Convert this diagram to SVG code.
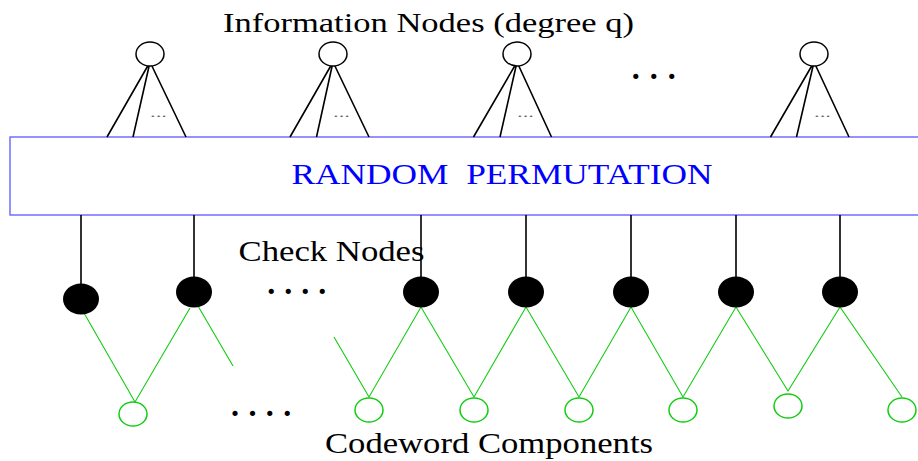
<svg xmlns="http://www.w3.org/2000/svg" width="918" height="461" viewBox="0 0 918 461">
  <style>
    .lbl { font-family: "Liberation Serif", "Times New Roman", serif; fill: #000; }
    .perm { font-family: "Liberation Serif", "Times New Roman", serif; fill: #0000ff; white-space: pre; }
    .dots { font-family: "Liberation Serif", "Times New Roman", serif; fill: #000; font-size: 32px; font-weight: bold; }
    .mini { font-family: "Liberation Serif", "Times New Roman", serif; fill: #666; font-size: 13px; }
    .info { fill: #fff; stroke: #000; stroke-width: 1.5; }
    .check { fill: #000; stroke: none; }
    .code { fill: none; stroke: #11cc11; stroke-width: 1.5; }
    .blk { stroke: #000; stroke-width: 1.6; fill: none; }
    .grn { stroke: #11cc11; stroke-width: 1.1; fill: none; }
  </style>

  <!-- title -->
  <text class="lbl" x="223" y="31.5" font-size="28" textLength="411" lengthAdjust="spacingAndGlyphs">Information Nodes (degree q)</text>

  <!-- permutation box -->
  <g id="permutation">
    <rect x="10" y="137" width="930" height="78" fill="none" stroke="#5a5aff" stroke-width="1.3"/>
    <text class="perm" x="291.5" y="183.5" font-size="30" textLength="421" lengthAdjust="spacingAndGlyphs">RANDOM  PERMUTATION</text>
  </g>

  <!-- connectors -->
  <g id="connectors">
    <!-- information node fans -->
    <path class="blk" d="M150,62 L107,137 M150,62 L133,137 M150,62 L186,137"/>
    <path class="blk" d="M333,62 L290,137 M333,62 L316.5,137 M333,62 L369,137"/>
    <path class="blk" d="M517,62 L473.5,137 M517,62 L500,137 M517,62 L551.5,137"/>
    <path class="blk" d="M814,62 L770.5,137 M814,62 L796.5,137 M814,62 L849,137"/>
    <!-- check node drops -->
    <path class="blk" d="M81,215 V284 M194,215 V277 M421,215 V277 M526,215 V277 M631,215 V277 M736,215 V277 M840,215 V277"/>
    <!-- check to codeword edges -->
    <path class="grn" d="M84,313 L135,402 L190,308 M198,306 L233,366"/>
    <path class="grn" d="M334,337 L369,397 L421,307 L474,397 L526,307 L579,397 L631,307 L683,397 L736,307 L788,391 L840,307 L902,397"/>
  </g>

  <!-- information nodes -->
  <g id="info-1"><ellipse class="info" cx="150" cy="54" rx="14" ry="12"/><text class="mini" x="150" y="117" textLength="17" lengthAdjust="spacingAndGlyphs">...</text></g>
  <g id="info-2"><ellipse class="info" cx="333" cy="54" rx="14" ry="12"/><text class="mini" x="333" y="117" textLength="17" lengthAdjust="spacingAndGlyphs">...</text></g>
  <g id="info-3"><ellipse class="info" cx="517" cy="54" rx="14" ry="12"/><text class="mini" x="517" y="117" textLength="17" lengthAdjust="spacingAndGlyphs">...</text></g>
  <g id="info-4"><ellipse class="info" cx="814" cy="54" rx="14" ry="12"/><text class="mini" x="814" y="117" textLength="17" lengthAdjust="spacingAndGlyphs">...</text></g>
  <text class="dots" x="631.7" y="79" letter-spacing="10">...</text>

  <!-- check nodes -->
  <text class="lbl" x="238.5" y="261" font-size="30" textLength="186" lengthAdjust="spacingAndGlyphs">Check Nodes</text>
  <g id="check-1"><ellipse class="check" cx="81" cy="299" rx="18" ry="15.5"/></g>
  <g id="check-2"><ellipse class="check" cx="194" cy="292" rx="18" ry="15.5"/></g>
  <g id="check-3"><ellipse class="check" cx="421" cy="292" rx="18" ry="15.5"/></g>
  <g id="check-4"><ellipse class="check" cx="526" cy="292" rx="18" ry="15.5"/></g>
  <g id="check-5"><ellipse class="check" cx="631" cy="292" rx="18" ry="15.5"/></g>
  <g id="check-6"><ellipse class="check" cx="736" cy="292" rx="18" ry="15.5"/></g>
  <g id="check-7"><ellipse class="check" cx="840" cy="292" rx="18" ry="15.5"/></g>
  <text class="dots" x="267.3" y="294" letter-spacing="9">....</text>

  <!-- codeword components -->
  <g id="code-1"><ellipse class="code" cx="133" cy="414" rx="14" ry="12"/></g>
  <g id="code-2"><ellipse class="code" cx="369" cy="410" rx="14" ry="12"/></g>
  <g id="code-3"><ellipse class="code" cx="474" cy="410" rx="14" ry="12"/></g>
  <g id="code-4"><ellipse class="code" cx="579" cy="410" rx="14" ry="12"/></g>
  <g id="code-5"><ellipse class="code" cx="683" cy="410" rx="14" ry="12"/></g>
  <g id="code-6"><ellipse class="code" cx="788" cy="406" rx="14" ry="12"/></g>
  <g id="code-7"><ellipse class="code" cx="902" cy="410" rx="14" ry="12"/></g>
  <text class="dots" x="231" y="416" letter-spacing="9.4">....</text>
  <text class="lbl" x="325" y="453" font-size="30" textLength="328" lengthAdjust="spacingAndGlyphs">Codeword Components</text>
</svg>
